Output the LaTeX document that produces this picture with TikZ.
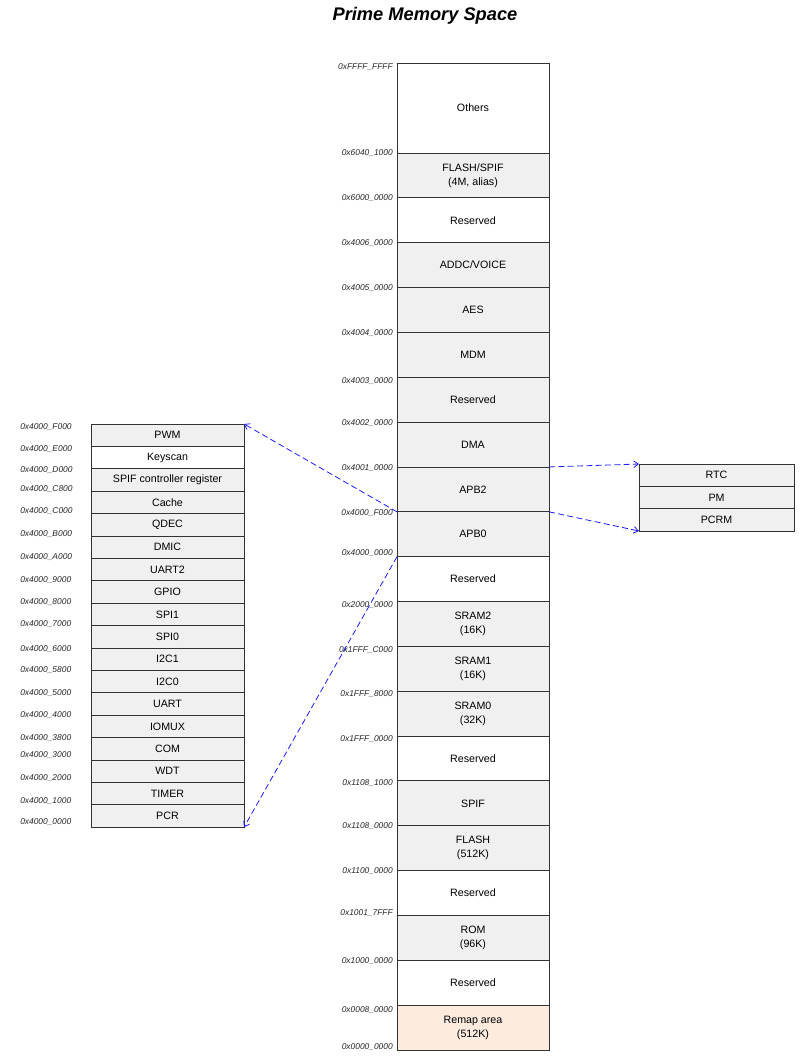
\documentclass[tikz,border=0pt]{standalone}
\usepackage{fontspec}
\setmainfont{Liberation Sans}
\usetikzlibrary{arrows.meta,positioning}
\definecolor{cellgray}{HTML}{F0F0F0}
\definecolor{remap}{HTML}{FCEBDF}
\definecolor{linkblue}{HTML}{1C1CF0}

\begin{document}
\begin{tikzpicture}[
    x=0.75pt,y=-0.75pt,
    node distance=0pt,
    mbox/.style={rectangle,draw=black!80,line width=0.7pt,inner sep=0pt,outer sep=0pt,
                 minimum width=114pt,minimum height=33.64pt,align=center,
                 font=\fontsize{8}{10.5}\selectfont},
    sbox/.style={mbox,minimum width=114.75pt,minimum height=16.8pt},
    rbox/.style={mbox,minimum width=116.25pt,minimum height=16.75pt},
    used/.style={fill=cellgray},
    free/.style={fill=white},
    remaparea/.style={fill=remap},
    addr/.style={inner sep=0pt,text=black!85,font=\fontsize{6.3}{7}\selectfont\itshape},
    link/.style={draw=linkblue,line width=0.6pt,dash pattern=on 4.5pt off 2.5pt,
                 -{Straight Barb[length=3.5pt,width=5pt]}}
  ]
    \useasboundingbox (0,0) rectangle (799,1061);
    \node[font=\fontsize{13.7}{16}\selectfont\bfseries\itshape] (title) at (425,16) {Prime Memory Space};

    % main memory map
    \node[mbox,free,anchor=north west,minimum height=67.5pt] (m1) at (397,63) {Others};
    \foreach \s/\t [count=\i from 2,remember=\i as \j (initially 1)] in {
        used/{FLASH/SPIF\\(4M, alias)},
        free/{Reserved},
        used/{ADDC/VOICE},
        used/{AES},
        used/{MDM},
        used/{Reserved},
        used/{DMA},
        used/{APB2},
        used/{APB0},
        free/{Reserved},
        used/{SRAM2\\(16K)},
        used/{SRAM1\\(16K)},
        used/{SRAM0\\(32K)},
        free/{Reserved},
        used/{SPIF},
        used/{FLASH\\(512K)},
        free/{Reserved},
        used/{ROM\\(96K)},
        free/{Reserved},
        remaparea/{Remap area\\(512K)}}
      \node[mbox,\s,below=of m\j] (m\i) {\t};

    \foreach \y/\a [count=\i] in {67/0xFFFF\_FFFF, 153/0x6040\_1000, 198/0x6000\_0000,
        243/0x4006\_0000, 288/0x4005\_0000, 333/0x4004\_0000, 381/0x4003\_0000,
        423/0x4002\_0000, 468/0x4001\_0000, 513/0x4000\_F000, 553/0x4000\_0000,
        605/0x2000\_0000, 650/0x1FFF\_C000, 694/0x1FFF\_8000, 739/0x1FFF\_0000,
        783/0x1108\_1000, 826/0x1108\_0000, 871/0x1100\_0000, 913/0x1001\_7FFF,
        961/0x1000\_0000, 1010/0x0008\_0000, 1047/0x0000\_0000}
      \node[addr,anchor=east] (a\i) at (393,\y) {\a};

    % APB0 peripherals
    \node[sbox,used,anchor=north west] (l1) at (91,424) {PWM};
    \foreach \s/\t [count=\i from 2,remember=\i as \j (initially 1)] in {
        free/Keyscan, used/SPIF controller register, used/Cache, used/QDEC,
        used/DMIC, used/UART2, used/GPIO, used/SPI1, used/SPI0, used/I2C1,
        used/I2C0, used/UART, used/IOMUX, used/COM, used/WDT, used/TIMER, used/PCR}
      \node[sbox,\s,below=of l\j] (l\i) {\t};

    \foreach \y/\a [count=\i] in {427/0x4000\_F000, 449/0x4000\_E000, 470/0x4000\_D000,
        489/0x4000\_C800, 511/0x4000\_C000, 534/0x4000\_B000, 557/0x4000\_A000,
        580/0x4000\_9000, 602/0x4000\_8000, 624/0x4000\_7000, 649/0x4000\_6000,
        670/0x4000\_5800, 693/0x4000\_5000, 715/0x4000\_4000, 738/0x4000\_3800,
        755/0x4000\_3000, 778/0x4000\_2000, 801/0x4000\_1000, 822/0x4000\_0000}
      \node[addr,anchor=west] (b\i) at (20,\y) {\a};

    % APB2 peripherals
    \node[rbox,used,anchor=north west] (r1) at (639,464) {RTC};
    \node[rbox,used,below=of r1] (r2) {PM};
    \node[rbox,used,below=of r2] (r3) {PCRM};

    \draw[link] (m9.south west) -- (l1.north east);
    \draw[link] (m10.south west) -- (l18.south east);
    \draw[link] (m9.north east) -- (r1.north west);
    \draw[link] (m9.south east) -- (r3.south west);
  \end{tikzpicture}
\end{document}
